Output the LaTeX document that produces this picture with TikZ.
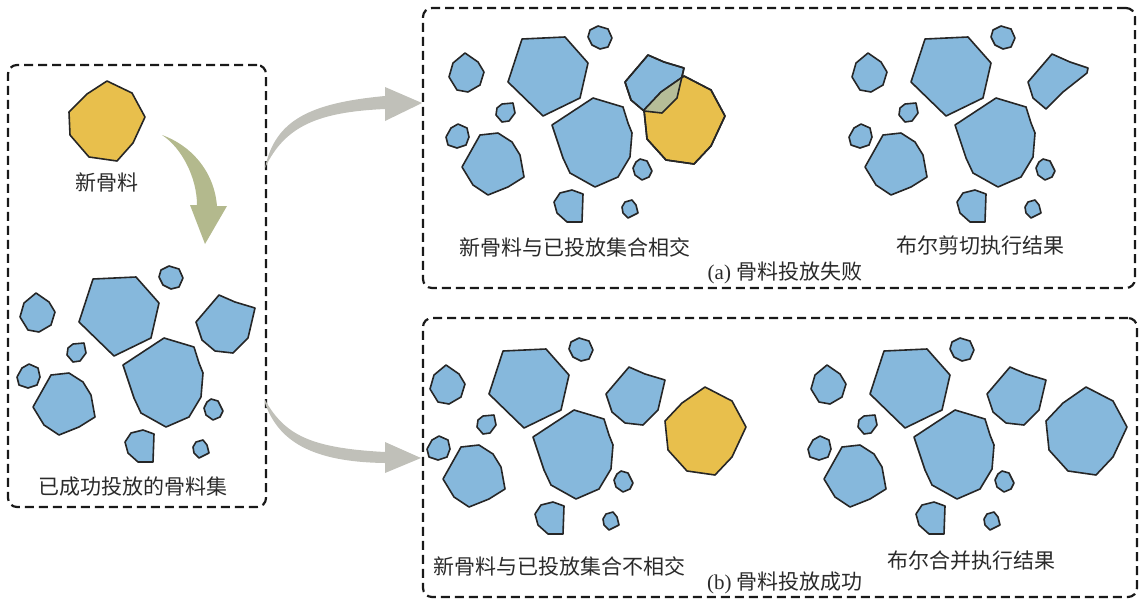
\documentclass[tikz,border=0pt]{standalone}
\usepackage{fontspec}
\setmainfont{Liberation Serif}
\newfontfamily\cjk{Noto Sans CJK SC}
\definecolor{pblue}{HTML}{86B8DC}
\definecolor{pyellow}{HTML}{E8BF4C}
\definecolor{pinter}{HTML}{B6BD98}
\definecolor{grayarrow}{HTML}{C0C0B9}
\definecolor{olivearrow}{HTML}{B3B98D}
\definecolor{txt}{HTML}{2A2A2A}
\def\pOne{(465,53) -- (478,62) -- (484,72) -- (480,85) -- (468,92) -- (457,90) -- (449,77) -- (453,63) -- cycle}
\def\pTwo{(522,39) -- (565,37) -- (588,63) -- (580,98) -- (543,116) -- (508,82) -- cycle}
\def\pThree{(590,30) -- (598,26) -- (608,29) -- (612,38) -- (608,47) -- (600,49) -- (592,45) -- (588,37) -- cycle}
\def\pFour{(502,104) -- (513,103) -- (515,113) -- (509,121) -- (502,122) -- (496,115) -- (497,108) -- cycle}
\def\pFive{(458,124) -- (467,128) -- (469,137) -- (466,145) -- (457,148) -- (448,145) -- (446,137) -- (451,128) -- cycle}
\def\pSix{(480,135) -- (498,133) -- (512,142) -- (520,155) -- (524,177) -- (508,187) -- (488,195) -- (473,185) -- (462,167) -- cycle}
\def\pSeven{(593,98) -- (623,107) -- (628,123) -- (632,133) -- (630,157) -- (618,177) -- (595,187) -- (570,173) -- (563,158) -- (552,125) -- cycle}
\def\pEight{(640,159) -- (647,161) -- (652,171) -- (649,177) -- (642,180) -- (635,175) -- (633,168) -- (636,162) -- cycle}
\def\pNine{(560,193) -- (572,190) -- (583,194) -- (582,222) -- (567,222) -- (557,213) -- (554,202) -- cycle}
\def\pTen{(625,202) -- (632,200) -- (636,205) -- (638,213) -- (628,218) -- (623,213) -- (622,207) -- cycle}
\def\pEleven{(648,55) -- (664,62) -- (684,68) -- (677,98) -- (662,113) -- (644,111) -- (631,100) -- (625,82) -- cycle}
\def\pCut{(649,54) -- (667,62) -- (685,68) -- (684,73) -- (660,92) -- (643,109) -- (630,98) -- (625,82) -- cycle}
\def\pYellow{(684,76) -- (711,90) -- (725,116) -- (711,146) -- (694,164) -- (666,160) -- (647,139) -- (644,110) -- (661,92) -- cycle}
\newcommand\commonparts{%
  \draw[bp] \pOne; \draw[bp] \pTwo; \draw[bp] \pThree; \draw[bp] \pFour;
  \draw[bp] \pFive; \draw[bp] \pSix; \draw[bp] \pSeven; \draw[bp] \pEight;
  \draw[bp] \pNine; \draw[bp] \pTen;}
\begin{document}
\begin{tikzpicture}[x=1pt,y=-1pt,
  part/.style={draw=black!85, line width=1.6pt, line join=round},
  bp/.style={part, fill=pblue},
  yp/.style={part, fill=pyellow},
  dbox/.style={draw=black!90, line width=2.2pt, dash pattern=on 9pt off 5pt, rounded corners=9pt, inner sep=0pt, outer sep=0pt},
  lbl/.style={text=txt, font=\fontsize{21}{25}\selectfont\cjk, inner sep=0pt},
  captext/.style={text=txt, font=\fontsize{21}{25}\selectfont, inner sep=0pt}]
\useasboundingbox (0,0) rectangle (1148,603);
% dashed boxes
\node[dbox, minimum width=258pt, minimum height=442pt] (boxL) at (137,286) {};
\node[dbox, minimum width=712pt, minimum height=280pt] (boxA) at (779,148) {};
\node[dbox, minimum width=714pt, minimum height=279pt] (boxB) at (780,457.5) {};
% new particle
\draw[yp] (107,81) -- (132,93) -- (145,117) -- (133,143) -- (117,161) -- (89,157) -- (70,135) -- (69,112) -- (87,94) -- cycle;
\node[lbl] (tNew) at (107,182) {新骨料};
% olive arrow
\coordinate (oT) at (162,135);
\coordinate (oTip) at (205,244);
\fill[olivearrow] (oT) .. controls (190,145) and (214,170) .. (217,206) -- (227,206) -- (oTip) -- (190,205) -- (197,205) .. controls (197,178) and (182,148) .. (oT) -- cycle;
% left panel set
\begin{scope}[shift={(-429,240)}]
  \commonparts
  \draw[bp] \pEleven;
\end{scope}
\node[lbl] (tSet) at (133,487) {已成功投放的骨料集};
% gray arrows
\coordinate (g1T) at (265,168);
\coordinate (g1Tip) at (422,103);
\fill[grayarrow] (g1T) .. controls (275,120) and (310,103) .. (385,96) -- (385,87) -- (g1Tip) -- (385,121) -- (385,109) .. controls (320,112) and (285,125) .. (g1T) -- cycle;
\coordinate (g2T) at (265,400);
\coordinate (g2Tip) at (421,458);
\fill[grayarrow] (g2T) .. controls (285,435) and (310,448) .. (385,452) -- (385,442) -- (g2Tip) -- (385,473) -- (385,463) .. controls (310,462) and (278,440) .. (265,403) -- cycle;
% panel (a) left
\commonparts
\draw[bp] \pEleven;
\draw[yp] \pYellow;
\begin{scope}
  \clip \pEleven;
  \fill[pinter] \pYellow;
\end{scope}
\draw[part] \pEleven;
\draw[part] \pYellow;
\node[lbl] (tA1) at (575,247) {新骨料与已投放集合相交};
% panel (a) right
\begin{scope}[shift={(403,0)}]
  \commonparts
  \draw[bp] \pCut;
\end{scope}
\node[lbl] (tA2) at (980,246) {布尔剪切执行结果};
\node[captext] (tAcap) at (785,273) {(a) {\cjk 骨料投放失败}};
% panel (b) left
\begin{scope}[shift={(-19,312)}]
  \commonparts
  \draw[bp] \pEleven;
\end{scope}
\begin{scope}[shift={(21,311)}]
  \draw[yp] \pYellow;
\end{scope}
\node[lbl] (tB1) at (559,566) {新骨料与已投放集合不相交};
% panel (b) right
\begin{scope}[shift={(362,312)}]
  \commonparts
  \draw[bp] \pEleven;
\end{scope}
\begin{scope}[shift={(402,311)}]
  \draw[bp] \pYellow;
\end{scope}
\node[lbl] (tB2) at (971,561) {布尔合并执行结果};
\node[captext] (tBcap) at (785,583) {(b) {\cjk 骨料投放成功}};
\end{tikzpicture}
\end{document}
